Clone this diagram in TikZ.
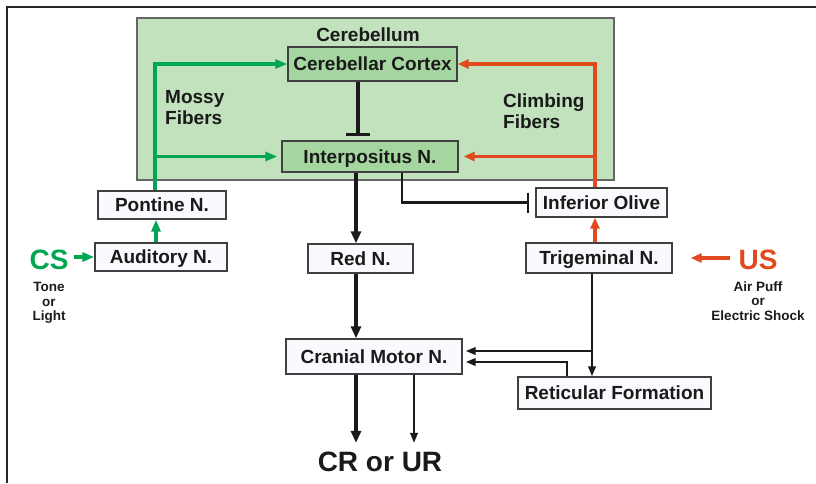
\documentclass[tikz,border=0pt]{standalone}
\usepackage{fontspec}
\setmainfont{Liberation Sans}
\usetikzlibrary{arrows.meta,calc}
\definecolor{cgreen}{HTML}{00A651}
\definecolor{cred}{HTML}{E04A1E}
\definecolor{cbfill}{HTML}{C2E1BD}
\definecolor{innerfill}{HTML}{A6D6A0}
\definecolor{boxfill}{HTML}{F8FAFE}
\definecolor{bord}{HTML}{404040}
\definecolor{txt}{HTML}{1A1A1A}
\begin{document}
\begin{tikzpicture}[x=1pt,y=-1pt,
  lbl/.style={inner sep=0pt, text=txt, font=\bfseries\fontsize{19}{21}\selectfont},
  box/.style={lbl, draw=bord, line width=1.4pt, fill=boxfill, text height=13.6pt, text depth=0pt},
  ibox/.style={box, fill=innerfill},
  cbbox/.style={draw=bord!80, line width=1.6pt, fill=cbfill},
  small/.style={inner sep=0pt, text=txt, align=center, font=\bfseries\fontsize{13.5}{14.5}\selectfont},
  big/.style={inner sep=0pt, font=\bfseries\fontsize{28}{30}\selectfont},
  grn/.style={draw=cgreen, line width=3.2pt, -{Triangle[length=12pt,width=9pt]}},
  rdc/.style={draw=cred, line width=3.2pt, -{Triangle[length=11pt,width=9pt]}},
  thk/.style={draw=txt, line width=3.6pt, -{Triangle[length=12pt,width=10pt]}},
  thn/.style={draw=txt, line width=2.2pt, -{Triangle[length=10pt,width=7.5pt]}},
  inhthk/.style={draw=txt, line width=3.6pt, -{Bar[width=24pt,line width=3.6pt]}},
  inhthn/.style={draw=txt, line width=2.4pt, -{Bar[width=20pt,line width=2.4pt]}}
]
\useasboundingbox (0,0) rectangle (816,483);
\draw[line width=2.4pt, draw=black!85] (7,483) -- (7,7) -- (816,7);

% cerebellum
\node[cbbox, minimum width=477pt, minimum height=162pt] (cb) at (375.5,99) {};
\node[lbl] (cbl) at (368,35) {Cerebellum};
\node[ibox, minimum width=169pt, minimum height=34pt] (ctx) at (372.5,64) {Cerebellar Cortex};
\node[ibox, minimum width=176pt, minimum height=31pt] (ip) at (370,156.5) {Interpositus N.};
\node[lbl, align=left, anchor=west] (mossy) at (165,108) {Mossy\\Fibers};
\node[lbl, align=left, anchor=west] (climb) at (503,111) {Climbing\\Fibers};

% boxes
\node[box, minimum width=128pt, minimum height=28pt] (pon) at (162,205) {Pontine N.};
\node[box, minimum width=132pt, minimum height=28pt] (aud) at (161,257) {Auditory N.};
\node[box, minimum width=131pt, minimum height=29pt] (io) at (601.5,202.5) {Inferior Olive};
\node[box, minimum width=146pt, minimum height=30pt] (tri) at (599,258) {Trigeminal N.};
\node[box, minimum width=105pt, minimum height=29pt] (red) at (360.5,258.5) {Red N.};
\node[box, minimum width=176pt, minimum height=35pt] (cm) at (374,356.5) {Cranial Motor N.};
\node[box, minimum width=193pt, minimum height=32pt] (ret) at (614.5,393) {Reticular Formation};

% stimuli and output
\node[big, text=cgreen] (cs) at (49,260) {CS};
\node[small] (csl) at (49,303) {Tone\\or\\Light};
\node[big, text=cred] (us) at (758,260) {US};
\node[small] (usl) at (758,301) {Air Puff\\or\\Electric Shock};
\node[big, text=txt] (crur) at (380,462) {CR or UR};

% helper coordinates
\coordinate (mx) at (155,0);
\coordinate (ax) at (156,0);
\coordinate (rx) at (595,0);
\coordinate (ix) at (358,0);
\coordinate (cx) at (356,0);
\coordinate (cx2) at (414,0);
\coordinate (ox) at (402,0);
\coordinate (tx) at (592,0);
\coordinate (j1) at (592,351);
\coordinate (j2) at (567,362);

% mossy fibers
\draw[grn] (pon.north -| mx) |- (ctx.west);
\draw[grn, shorten >=4pt] (mx |- ip.west) -- (ip.west);
\draw[grn] (aud.north -| ax) -- (pon.south -| ax);
\draw[grn, shorten <=5pt] (cs.east |- aud.west) -- (aud.west);

% climbing fibers
\draw[rdc] (io.north -| rx) |- (ctx.east);
\draw[rdc, shorten >=5pt] (rx |- ip.east) -- (ip.east);
\draw[rdc] (tri.north -| rx) -- (io.south -| rx);
\draw[rdc, shorten <=8pt, shorten >=18pt] (us.west |- tri.east) -- (tri.east);

% inhibitory
\draw[inhthk, shorten >=4pt] (ctx.south -| ix) -- (ip.north -| ix);
\draw[inhthn, shorten >=6pt] (ip.south -| ox) |- (io.west);

% motor pathway
\draw[thk] (ip.south -| cx) -- (red.north -| cx);
\draw[thk] (red.south -| cx) -- (cm.north -| cx);
\draw[thk, shorten >=9pt] (cm.south -| cx) -- (crur.north -| cx);
\draw[thn, shorten >=9pt] (cm.south -| cx2) -- (crur.north -| cx2);

\draw[thn] (tri.south -| tx) -- (ret.north -| tx);
\draw[thn, shorten >=3pt] (j1) -- (cm.east |- j1);
\draw[thn, shorten >=3pt] (ret.north -| j2) |- (cm.east |- j2);
\end{tikzpicture}
\end{document}
